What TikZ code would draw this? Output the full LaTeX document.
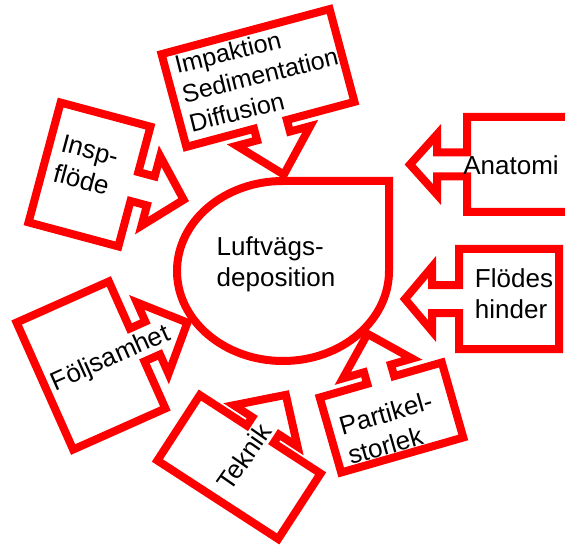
\documentclass[tikz,border=0pt]{standalone}
\usepackage{fontspec}
\setmainfont{Liberation Sans}

\newcommand{\calloutshape}[8]{%
\begin{scope}[shift={#1}, rotate=#2]
\draw[calloutline] ({-#3/2},{-#4/2}) -- ({-#5},{-#4/2}) -- ({-#5},{-#4/2-#7})
-- ({-#6},{-#4/2-#7}) -- (0,{-#4/2-#7-#8}) -- (#6,{-#4/2-#7})
-- (#5,{-#4/2-#7}) -- (#5,{-#4/2}) -- ({#3/2},{-#4/2})
-- ({#3/2},{#4/2}) -- ({-#3/2},{#4/2}) -- cycle;
\end{scope}}

\begin{document}
\begin{tikzpicture}[
x=1pt, y=-1pt,
calloutline/.style={
draw=red,
fill=white,
line width=8pt,
line join=miter
},
lbl/.style={
inner sep=0pt,
font=\fontsize{26}{31}\selectfont
}
]

\useasboundingbox (0,0) rectangle (565,548);
\clip (0,0) rectangle (565,548);

\draw[calloutline] (283,181) -- (389,181) -- (389,271)
arc[start angle=0, end angle=-270, x radius=106pt, y radius=90pt] -- cycle;

\calloutshape{(258,78)}{-165}{174}{96}{17}{38}{12}{40}

\calloutshape{(89.5,174.5)}{-105}{124}{93}{15}{36}{17}{34}

\calloutshape{(91,365.5)}{-66}{139}{101}{18}{39}{17}{38}

\calloutshape{(239,467)}{-33}{144}{78}{16}{38}{10}{37}

\calloutshape{(391.5,417.5)}{16}{127}{78}{14}{36}{12}{36}

\calloutshape{(527,164.5)}{90}{95}{120}{12}{30}{30}{27}

\calloutshape{(509,299)}{90}{100}{100}{14}{32}{27}{27}

\node[lbl, font=\fontsize{25}{30}\selectfont, align=left, rotate=14]
(impaktion) at (260,75) {Impaktion\\Sedimentation\\Diffusion};

\node[lbl, align=left, rotate=-15] (insp) at (86,165)
{Insp-\\flöde};

\node[lbl, rotate=24] (foljsamhet) at (111,359) {Följsamhet};

\node[lbl, rotate=55] (teknik) at (244,457) {Teknik};

\node[lbl, align=left, rotate=16] (partikel) at (390,428)
{Partikel-\\storlek};

\node[lbl] (anatomi) at (511,165) {Anatomi};

\node[lbl, align=left] (flodes) at (514,294) {Flödes\\hinder};

\node[lbl, align=left] (deposition) at (276,264)
{Luftvägs-\\deposition};

\end{tikzpicture}
\end{document}
